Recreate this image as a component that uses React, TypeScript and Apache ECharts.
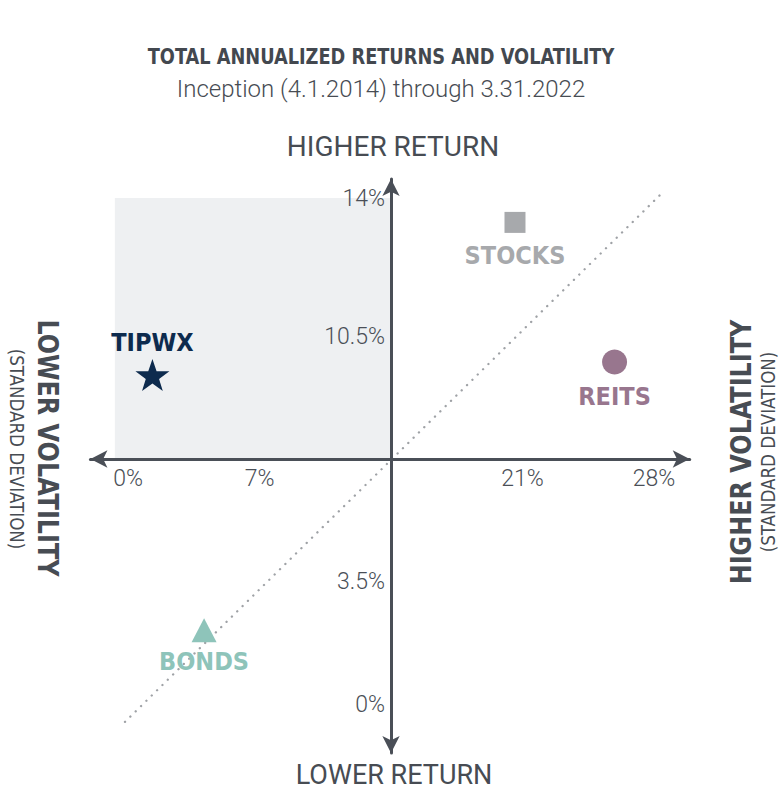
import React, { useEffect, useRef } from "react";
import * as echarts from "echarts";

// ---- data ----
const assetNames = ["TIPWX", "STOCKS", "REITS", "BONDS"];
const volatilityPct = [1.3, 20.6, 25.9, 4.05]; // x: standard deviation %
const returnPct = [9.4, 13.76, 9.77, 2.11]; // y: annualized return %
const xTickValues = [0, 7, 21, 28];
const yTickValues = [0, 3.5, 10.5, 14];
const axisCross = [14, 7];
const diagonalLine = [
  [-0.16, -0.51],
  [28.43, 14.6],
];
const quadrantLow = [-0.7, 7];
const quadrantHigh = [14, 14.46];

const titleText = "TOTAL ANNUALIZED RETURNS AND VOLATILITY";
const subtitleText = "Inception (4.1.2014) through 3.31.2022";

// ---- styles ----
const X_MIN = -2;
const X_MAX = 29.9;
const Y_MIN = -1.4;
const Y_MAX = 15;
const AXIS = "#4a4f57";
const TEXT = "#474c53";
const NARROW = "'Liberation Sans Narrow', 'DejaVu Sans Condensed', 'Roboto', sans-serif";
const ROBOTO = "Roboto, 'Liberation Sans', sans-serif";
const STAR =
  "path://M50,0 L61.8,35.1 L98.1,35.1 L68.8,56.7 L79.4,91 L50,70 L20.6,91 L31.2,56.7 L1.9,35.1 L38.2,35.1 Z";

const markerStyles: Record<string, any> = {
  TIPWX: { symbol: STAR, size: [34, 32], color: "#0d2b4e", pos: "top", dist: 4 },
  STOCKS: { symbol: "rect", size: [21, 21], color: "#a7a9ac", pos: "bottom", dist: 10 },
  REITS: { symbol: "circle", size: 25, color: "#98768e", pos: "bottom", dist: 9 },
  BONDS: { symbol: "triangle", size: [25, 24], color: "#8ec4ba", pos: "bottom", dist: 7 },
};

export default function App() {
  const ref = useRef<HTMLDivElement>(null);

  useEffect(() => {
    if (!ref.current) return;
    const chart = echarts.init(ref.current, undefined, { renderer: "svg" });

    const scatterSeries = assetNames.map((name, i) => {
      const st = markerStyles[name];
      return {
        name,
        type: "scatter",
        z: 5,
        symbol: st.symbol,
        symbolSize: st.size,
        itemStyle: { color: st.color, opacity: 1 },
        label: {
          show: true,
          position: st.pos,
          distance: st.dist,
          formatter: name,
          color: st.color,
          fontSize: 25,
          fontWeight: "bold",
          fontFamily: NARROW,
        },
        data: [[volatilityPct[i], returnPct[i]]],
      };
    });

    const axisLine = {
      show: true,
      onZero: false,
      symbol: ["arrow", "arrow"],
      symbolSize: [13, 17],
      lineStyle: { color: AXIS, width: 3 },
    };
    const labelFont = { color: AXIS, fontSize: 23, fontWeight: 300, fontFamily: ROBOTO };

    const option: any = {
      animation: false,
      backgroundColor: "#ffffff",
      grid: {
        left: 90.43,
        right: 89.3,
        top: 179,
        bottom: 38,
        containLabel: false,
        outerBoundsMode: "none",
      },
      xAxis: {
        type: "value",
        min: X_MIN,
        max: X_MAX,
        position: "bottom",
        z: 10,
        axisLine,
        axisTick: { show: false },
        splitLine: { show: false },
        axisLabel: {
          customValues: xTickValues,
          formatter: (v: number) => `${v}%`,
          margin: 8,
          ...labelFont,
        },
      },
      yAxis: {
        type: "value",
        min: Y_MIN,
        max: Y_MAX,
        position: "left",
        z: 10,
        axisLine,
        axisTick: { show: false },
        splitLine: { show: false },
        axisLabel: {
          customValues: yTickValues,
          formatter: (v: number) => (v === 14 ? `{top|${v}%}` : `${v}%`),
          margin: 6,
          ...labelFont,
          rich: {
            top: { padding: [0, 0, 32, 0], ...labelFont },
          },
        },
      },
      series: [
        {
          type: "scatter",
          z: 1,
          silent: true,
          data: [],
          markArea: {
            silent: true,
            itemStyle: { color: "#eef0f2" },
            data: [[{ coord: quadrantLow }, { coord: quadrantHigh }]],
          },
        },
        {
          type: "line",
          z: 2,
          silent: true,
          symbol: "none",
          lineStyle: { color: "#9fa2a6", width: 2.3, type: [0.1, 7.4], cap: "round" },
          data: diagonalLine,
        },
        ...scatterSeries,
      ],
      graphic: [
        {
          type: "text",
          x: 381,
          y: 57,
          scaleX: 0.94,
          style: {
            text: titleText,
            align: "center",
            verticalAlign: "middle",
            fill: "#43484f",
            font: `bold 21px ${NARROW}`,
          },
        },
        {
          type: "text",
          x: 381,
          y: 89,
          style: {
            text: subtitleText,
            align: "center",
            verticalAlign: "middle",
            fill: TEXT,
            font: `300 24px ${ROBOTO}`,
          },
        },
        {
          type: "text",
          x: 393,
          y: 146,
          style: {
            text: "HIGHER RETURN",
            align: "center",
            verticalAlign: "middle",
            fill: TEXT,
            font: `28px ${ROBOTO}`,
          },
        },
        {
          type: "text",
          x: 394,
          y: 775,
          style: {
            text: "LOWER RETURN",
            align: "center",
            verticalAlign: "middle",
            fill: TEXT,
            font: `27px ${ROBOTO}`,
          },
        },
        {
          type: "text",
          x: 48,
          y: 448,
          rotation: -Math.PI / 2,
          scaleX: 0.95,
          style: {
            text: "LOWER VOLATILITY",
            align: "center",
            verticalAlign: "middle",
            fill: TEXT,
            font: `bold 28px ${NARROW}`,
          },
        },
        {
          type: "text",
          x: 17,
          y: 449,
          rotation: -Math.PI / 2,
          scaleX: 0.93,
          style: {
            text: "(STANDARD DEVIATION)",
            align: "center",
            verticalAlign: "middle",
            fill: TEXT,
            font: `20px ${NARROW}`,
          },
        },
        {
          type: "text",
          x: 741,
          y: 452,
          rotation: Math.PI / 2,
          scaleX: 0.95,
          style: {
            text: "HIGHER VOLATILITY",
            align: "center",
            verticalAlign: "middle",
            fill: TEXT,
            font: `bold 28px ${NARROW}`,
          },
        },
        {
          type: "text",
          x: 768,
          y: 452,
          rotation: Math.PI / 2,
          scaleX: 0.93,
          style: {
            text: "(STANDARD DEVIATION)",
            align: "center",
            verticalAlign: "middle",
            fill: TEXT,
            font: `20px ${NARROW}`,
          },
        },
      ],
    };

    chart.setOption(option);

    // Move both axes (lines, arrows, labels) to cross at the chart's centre, using the library's scales.
    const cross = chart.convertToPixel({ gridIndex: 0 }, axisCross) as number[];
    const corner = chart.convertToPixel({ gridIndex: 0 }, [X_MIN, Y_MIN]) as number[];
    chart.setOption({
      xAxis: { offset: cross[1] - corner[1] },
      yAxis: { offset: corner[0] - cross[0] },
    });

    return () => chart.dispose();
  }, []);

  return (
    <div
      ref={ref}
      style={{ position: "fixed", left: 0, top: 0, width: 779, height: 791, background: "#fff" }}
    />
  );
}
